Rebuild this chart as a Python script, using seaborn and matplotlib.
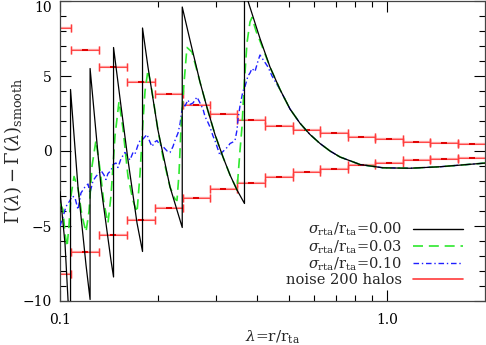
import numpy as np
import matplotlib
matplotlib.use("Agg")
import matplotlib.pyplot as plt
import seaborn as sns
from matplotlib.lines import Line2D
from matplotlib.ticker import FixedLocator, FixedFormatter, MultipleLocator, NullFormatter

# ---------------- data ----------------
lam_black = [0.1000, 0.1036, 0.1058, 0.1077,
             0.1077, 0.1135, 0.1201, 0.1236,
             0.1236, 0.1335, 0.1432, 0.1458,
             0.1458, 0.1526, 0.1614, 0.1720, 0.1788,
             0.1788, 0.1858, 0.1993, 0.2170, 0.2365,
             0.2365, 0.2497, 0.2680, 0.2815, 0.2978, 0.3151, 0.3311, 0.3478, 0.3666,
             0.3666, 0.3757, 0.4089, 0.4387, 0.4708, 0.5051, 0.5420, 0.5815, 0.6240,
             0.6695, 0.7184, 0.8270, 0.9723, 1.1757, 1.4526, 2.0088]
gam_black = [-2.7, -6.2, -9.9, -12.5,
             4.1, -2.4, -7.6, -9.9,
             5.5, -2.4, -7.3, -8.4,
             6.9, 3.5, -0.6, -4.8, -6.7,
             8.2, 5.6, 1.4, -2.4, -5.1,
             9.6, 7.4, 4.6, 2.9, 1.1, -0.4, -1.6, -2.6, -3.5,
             10.8, 10.0, 7.5, 5.6, 4.1, 2.8, 1.85, 1.1, 0.5,
             0.0, -0.4, -0.9, -1.12, -1.15, -1.05, -0.8]

lam_green = [0.1000, 0.1021, 0.1036, 0.1051, 0.1065, 0.1080, 0.1104, 0.1135, 0.1167,
             0.1201, 0.1227, 0.1253, 0.1288, 0.1325, 0.1363, 0.1402, 0.1432, 0.1473,
             0.1515, 0.1558, 0.1614, 0.1672, 0.1720, 0.1757, 0.1794, 0.1820, 0.1858,
             0.1911, 0.1993, 0.2065, 0.2170, 0.2247, 0.2279, 0.2312, 0.2344, 0.2394,
             0.2445, 0.2533, 0.2680, 0.2815, 0.2978, 0.3151, 0.3311, 0.3429, 0.3478,
             0.3551, 0.3602, 0.3653, 0.3731, 0.3811, 0.3865, 0.3976, 0.4147, 0.4387,
             0.4708, 0.5051, 0.5420, 0.5815, 0.6240, 0.6695, 0.7184, 0.8270, 0.9723,
             1.1757, 1.4526, 2.0088]
gam_green = [-3.5, -3.9, -5.5, -6.4, -5.0, -3.0, -1.7, -2.5, -4.3,
             -5.4, -4.0, -1.0, 0.7, -1.2, -3.5, -4.8, -3.0, 1.0,
             3.3, 1.5, -1.7, -3.3, -4.1, -1.5, 2.0, 4.0, 5.4,
             4.0, 1.4, -0.4, -2.4, -3.2, -3.3, -1.5, 1.5, 4.5,
             6.9, 6.6, 4.6, 2.9, 1.1, -0.4, -1.6, -2.3, -2.6,
             0.0, 1.6, 4.2, 7.2, 8.6, 8.9, 8.0, 7.0, 5.6,
             4.1, 2.8, 1.85, 1.1, 0.5, 0.0, -0.4, -0.9, -1.12,
             -1.15, -1.05, -0.8]

lam_blue = [0.1000, 0.1014, 0.1021, 0.1043, 0.1073, 0.1088, 0.1111, 0.1135, 0.1159,
            0.1192, 0.1218, 0.1235, 0.1261, 0.1288, 0.1335, 0.1363, 0.1382, 0.1402,
            0.1432, 0.1453, 0.1483, 0.1504, 0.1537, 0.1580, 0.1614, 0.1637, 0.1672,
            0.1696, 0.1732, 0.1757, 0.1794, 0.1845, 0.1884, 0.1911, 0.1951, 0.1979,
            0.2022, 0.2065, 0.2125, 0.2170, 0.2216, 0.2247, 0.2296, 0.2328, 0.2377,
            0.2411, 0.2463, 0.2497, 0.2551, 0.2588, 0.2624, 0.2680, 0.2737, 0.2776,
            0.2835, 0.2875, 0.2937, 0.2978, 0.3042, 0.3085, 0.3129, 0.3196, 0.3264,
            0.3311, 0.3381, 0.3429, 0.3478, 0.3502, 0.3551, 0.3627, 0.3679, 0.3757,
            0.3811, 0.3865, 0.3947, 0.4032, 0.4089, 0.4176, 0.4266, 0.4326, 0.4450,
            0.4708, 0.5051, 0.5420, 0.5815, 0.6240, 0.6695, 0.7184, 0.8270, 0.9723,
            1.1757, 1.4526, 2.0088]
gam_blue = [-5.0, -4.6, -4.4, -3.7, -3.3, -3.0, -3.1, -3.9, -2.8,
            -2.4, -2.2, -2.8, -2.0, -1.7, -1.3, -1.6, -1.9, -1.5,
            -1.3, -0.9, -0.8, -1.1, -0.5, -0.1, -0.4, -0.6, -0.1,
            -0.2, 0.4, 0.7, 0.8, 1.1, 0.6, 0.3, 0.6, 0.7,
            0.4, 0.3, 0.0, -0.1, 0.3, 0.7, 1.2, 1.8, 3.2,
            3.0, 3.4, 3.1, 3.2, 3.4, 3.6, 3.2, 2.8, 2.3,
            1.9, 1.6, 1.0, 0.7, 0.1, -0.3, -0.1, 0.1, 0.3,
            0.5, 0.6, 0.7, 1.4, 2.1, 3.0, 4.0, 4.3, 5.0,
            5.2, 5.5, 5.3, 6.0, 6.4, 6.1, 5.8, 5.6, 5.0,
            4.1, 2.8, 1.85, 1.1, 0.5, 0.0, -0.4, -0.9, -1.12,
            -1.15, -1.05, -0.8]

# noise bins (edges in lambda) and amplitude
bin_lo = [0.0887, 0.1080, 0.1316, 0.1603, 0.1951, 0.2377, 0.2875, 0.3478,
          0.4238, 0.5163, 0.6240, 0.7594, 0.9182, 1.1186, 1.3528, 1.6482]
bin_hi = [0.1080, 0.1316, 0.1603, 0.1951, 0.2377, 0.2875, 0.3478, 0.4238,
          0.5163, 0.6240, 0.7594, 0.9182, 1.1186, 1.3528, 1.6482, 2.0088]
noise = [8.2, 6.75, 5.6, 4.6, 3.8, 3.1, 2.5, 2.1,
         1.7, 1.42, 1.17, 0.95, 0.8, 0.62, 0.52, 0.45]

labels = [r"$\sigma_{\mathrm{rta}}/\mathrm{r}_{\mathrm{ta}}$=0.00",
          r"$\sigma_{\mathrm{rta}}/\mathrm{r}_{\mathrm{ta}}$=0.03",
          r"$\sigma_{\mathrm{rta}}/\mathrm{r}_{\mathrm{ta}}$=0.10",
          "noise 200 halos"]

x_ticks = [0.1, 1.0]
x_ticklabels = ["0.1", "1.0"]
y_ticks = [-10, -5, 0, 5, 10]
y_ticklabels = ["\u221210", "\u22125", "0", "5", "10"]

# ---------------- style ----------------
sns.set_style("ticks")
plt.rcParams["font.family"] = ["DejaVu Serif"]
plt.rcParams["mathtext.fontset"] = "dejavuserif"

c_black, c_green, c_blue, c_red = "black", "#2ee82e", "#1f1fff", "#ff3b3b"

fig = plt.figure(figsize=(4.86, 3.45), dpi=100)
ax = fig.add_axes([60 / 486, 1 - 301 / 345, 425 / 486, 300 / 345])
ax.set_xscale("log")

# noise error bars
lo = np.array(bin_lo); hi = np.array(bin_hi); nz = np.array(noise)
cen = np.sqrt(lo * hi)
for sgn in (1, -1):
    ax.errorbar(cen, sgn * nz, xerr=[cen - lo, hi - cen], fmt="none",
                ecolor="#ff9a9a", elinewidth=1.6, capsize=3, capthick=1.0, zorder=2)
    ax.errorbar(cen, sgn * nz, xerr=[cen - lo, hi - cen], fmt="none",
                ecolor=c_red, elinewidth=0.6, capsize=3, capthick=1.0, zorder=2)
    sns.scatterplot(x=cen, y=sgn * nz, marker="_", s=16, color="#e00000",
                    linewidth=1.4, ax=ax, zorder=3)

sns.lineplot(x=lam_blue, y=gam_blue, sort=False, estimator=None, color=c_blue,
             lw=1.0, dashes=(4, 2, 1, 2), ax=ax, zorder=4)
sns.lineplot(x=lam_green, y=gam_green, sort=False, estimator=None, color=c_green,
             lw=1.2, dashes=(6, 3.5), ax=ax, zorder=5)
sns.lineplot(x=lam_black, y=gam_black, sort=False, estimator=None, color=c_black,
             lw=0.9, ax=ax, zorder=6)

ax.set_xlim(0.1, 1.994)
ax.set_ylim(-10, 10)

ax.xaxis.set_major_locator(FixedLocator(x_ticks))
ax.xaxis.set_major_formatter(FixedFormatter(x_ticklabels))
ax.xaxis.set_minor_locator(FixedLocator([0.2, 0.3, 0.4, 0.5, 0.6, 0.7, 0.8, 0.9]))
ax.xaxis.set_minor_formatter(NullFormatter())
ax.yaxis.set_major_locator(FixedLocator(y_ticks))
ax.yaxis.set_major_formatter(FixedFormatter(y_ticklabels))
ax.yaxis.set_minor_locator(MultipleLocator(1))

ax.tick_params(which="both", direction="in", top=True, right=True, width=0.8,
               labelsize=10, colors="black")
ax.tick_params(which="major", length=8)
ax.tick_params(which="minor", length=4)
ax.tick_params(axis="x", which="major", pad=9)
ax.tick_params(axis="y", which="major", pad=6)
for s in ax.spines.values():
    s.set_linewidth(0.9)
    s.set_color("#444444")

fig.canvas.draw()
ylabs = ax.get_yticklabels()
ylabs[-1].set_verticalalignment("top")

ax.set_xlabel(r"$\lambda$=r/r$_{\mathrm{ta}}$", fontsize=11, labelpad=1)
ax.set_ylabel(r"$\Gamma(\lambda)-\Gamma(\lambda)_{\mathrm{smooth}}$", fontsize=13)
ax.yaxis.set_label_coords(-0.084, 0.5)

handles = [Line2D([], [], color=c_black, lw=1.0),
           Line2D([], [], color=c_green, lw=1.2, dashes=(6, 3.5)),
           Line2D([], [], color=c_blue, lw=1.0, dashes=(4, 2, 1, 2)),
           Line2D([], [], color=c_red, lw=1.2)]
ax.legend(handles, labels, loc="lower right", bbox_to_anchor=(0.948, 0.047),
          frameon=False, markerfirst=False, fontsize=10.5, handlelength=3.4,
          handletextpad=0.75, labelspacing=0.0, borderpad=0, borderaxespad=0)

fig.savefig("out.png", dpi=100)
